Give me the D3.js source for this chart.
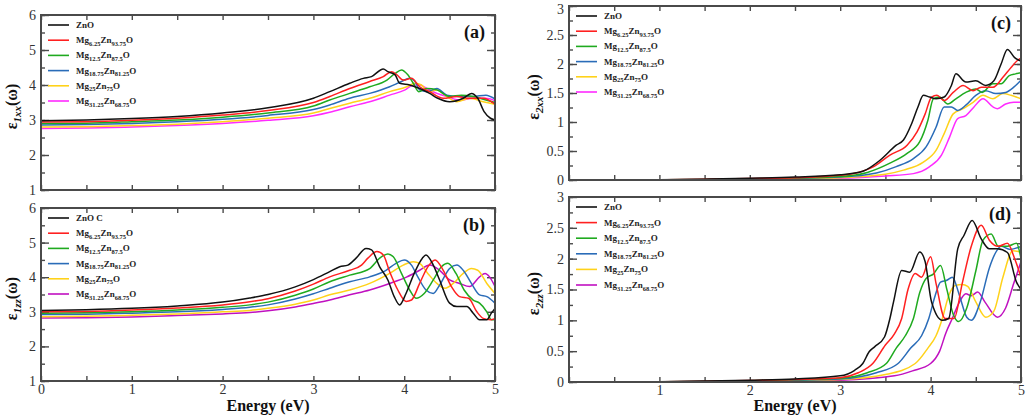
<!DOCTYPE html>
<html>
<head>
<meta charset="utf-8">
<script src="https://cdn.jsdelivr.net/npm/d3@7"></script>
<style>
  body { margin: 0; background: #fff; }
  svg text { font-family: "Liberation Serif", "Times New Roman", Tinos, "DejaVu Serif", serif; }
</style>
</head>
<body>
<div id="chart"></div>
<script>
// ---- data (energy in eV, dielectric function) ----
const seriesNames = ['ZnO', 'Mg6.25', 'Mg12.5', 'Mg18.75', 'Mg25', 'Mg31.25'];
// legend labels: [Mg sub, Zn sub]
const legendSubs = [null, ['6.25', '93.75'], ['12.5', '87.5'], ['18.75', '81.25'], ['25', '75'], ['31.25', '68.75']];

// (a) eps1 xx
const a_ZnO = [[0,2.98],[0.5,3.0],[1,3.04],[1.5,3.1],[2,3.2],[2.5,3.35],[3,3.62],[3.18,3.81],[3.4,4.05],[3.55,4.19],[3.64,4.24],[3.77,4.46],[3.82,4.38],[3.9,4.29],[3.95,4.05],[4.06,4.0],[4.17,3.9],[4.28,3.76],[4.37,3.62],[4.5,3.52],[4.65,3.62],[4.74,3.76],[4.81,3.62],[4.88,3.24],[4.95,3.05],[5,3.0]];
const a_Mg625 = [[0,2.94],[0.5,2.95],[1,2.99],[1.5,3.05],[2,3.14],[2.5,3.27],[3,3.5],[3.18,3.67],[3.4,3.9],[3.62,4.1],[3.77,4.24],[3.86,4.38],[3.92,4.29],[3.99,4.14],[4.08,4.19],[4.17,3.95],[4.28,3.81],[4.43,3.62],[4.58,3.67],[4.72,3.62],[4.87,3.62],[5,3.45]];
const a_Mg125 = [[0,2.9],[0.5,2.91],[1,2.95],[1.5,3.0],[2,3.08],[2.5,3.2],[3,3.4],[3.18,3.57],[3.4,3.76],[3.62,3.95],[3.81,4.14],[3.9,4.33],[3.97,4.43],[4.04,4.29],[4.1,4.05],[4.16,3.81],[4.25,3.9],[4.36,3.86],[4.5,3.67],[4.63,3.71],[4.76,3.67],[4.9,3.57],[5,3.5]];
const a_Mg1875 = [[0,2.86],[0.5,2.87],[1,2.9],[1.5,2.95],[2,3.02],[2.5,3.13],[3,3.3],[3.18,3.43],[3.4,3.62],[3.62,3.76],[3.84,3.95],[3.97,4.1],[4.06,4.19],[4.12,4.1],[4.17,3.86],[4.25,3.81],[4.36,3.9],[4.47,3.71],[4.61,3.67],[4.76,3.67],[4.9,3.71],[5,3.6]];
const a_Mg25 = [[0,2.8],[0.5,2.81],[1,2.84],[1.5,2.88],[2,2.95],[2.5,3.05],[3,3.2],[3.18,3.33],[3.4,3.48],[3.62,3.62],[3.84,3.81],[4.03,3.95],[4.12,4.05],[4.19,4.0],[4.27,3.81],[4.36,3.86],[4.47,3.67],[4.58,3.52],[4.72,3.62],[4.87,3.52],[5,3.45]];
const a_Mg3125 = [[0,2.76],[0.5,2.77],[1,2.8],[1.5,2.84],[2,2.9],[2.5,2.99],[3,3.12],[3.18,3.22],[3.4,3.38],[3.62,3.52],[3.84,3.71],[4.01,3.86],[4.1,4.0],[4.17,4.0],[4.25,3.9],[4.36,3.76],[4.47,3.67],[4.61,3.57],[4.76,3.62],[4.9,3.62],[5,3.55]];

// (b) eps1 zz
const b_ZnO = [[0,3.04],[0.5,3.06],[1,3.1],[1.5,3.17],[2,3.28],[2.3,3.4],[2.5,3.5],[2.8,3.72],[3,3.93],[3.18,4.16],[3.29,4.3],[3.38,4.35],[3.47,4.55],[3.58,4.83],[3.64,4.79],[3.73,4.3],[3.82,3.92],[3.89,3.44],[3.95,3.2],[4.02,3.53],[4.11,4.11],[4.2,4.55],[4.24,4.64],[4.32,4.35],[4.39,3.92],[4.5,3.25],[4.58,3.15],[4.69,3.15],[4.76,2.96],[4.83,2.77],[4.91,2.77],[4.96,2.96],[5,3.1]];
const b_Mg625 = [[0,3.0],[0.5,3.01],[1,3.05],[1.5,3.11],[2,3.2],[2.3,3.29],[2.5,3.38],[2.8,3.6],[3,3.8],[3.18,4.01],[3.4,4.2],[3.53,4.35],[3.6,4.55],[3.7,4.74],[3.77,4.64],[3.84,4.16],[3.93,3.63],[4.02,3.3],[4.08,3.34],[4.17,3.82],[4.26,4.3],[4.34,4.5],[4.43,4.2],[4.52,3.73],[4.61,3.44],[4.71,3.39],[4.8,3.0],[4.87,2.81],[4.95,2.77],[5,2.8]];
const b_Mg125 = [[0,2.96],[0.5,2.97],[1,3.0],[1.5,3.05],[2,3.13],[2.3,3.2],[2.5,3.28],[2.8,3.48],[3,3.66],[3.18,3.87],[3.4,4.06],[3.62,4.25],[3.73,4.55],[3.82,4.67],[3.88,4.59],[3.97,4.11],[4.06,3.63],[4.13,3.39],[4.22,3.53],[4.32,3.92],[4.41,4.3],[4.48,4.4],[4.57,4.11],[4.66,3.63],[4.76,3.34],[4.83,3.25],[4.91,3.0],[4.96,2.77],[5,2.77]];
const b_Mg1875 = [[0,2.92],[0.5,2.93],[1,2.96],[1.5,3.0],[2,3.07],[2.3,3.13],[2.5,3.2],[2.8,3.37],[3,3.52],[3.18,3.68],[3.4,3.87],[3.62,4.01],[3.8,4.2],[3.91,4.4],[4.0,4.5],[4.08,4.35],[4.15,4.01],[4.24,3.63],[4.32,3.53],[4.39,3.77],[4.5,4.25],[4.58,4.35],[4.65,4.2],[4.74,3.82],[4.83,3.49],[4.91,3.44],[5,3.25]];
const b_Mg25 = [[0,2.86],[0.5,2.87],[1,2.9],[1.5,2.94],[2,3.0],[2.3,3.04],[2.5,3.1],[2.8,3.22],[3,3.34],[3.18,3.49],[3.4,3.63],[3.62,3.82],[3.84,4.11],[3.99,4.35],[4.1,4.45],[4.17,4.4],[4.26,4.11],[4.36,3.82],[4.45,3.68],[4.54,3.82],[4.65,4.11],[4.74,4.25],[4.81,4.2],[4.91,3.82],[5,3.53]];
const b_Mg3125 = [[0,2.82],[0.5,2.83],[1,2.85],[1.5,2.89],[2,2.94],[2.3,2.98],[2.5,3.03],[2.8,3.14],[3,3.24],[3.18,3.34],[3.4,3.49],[3.62,3.63],[3.84,3.82],[4.03,4.01],[4.17,4.2],[4.28,4.35],[4.39,4.2],[4.5,3.92],[4.61,3.82],[4.72,3.73],[4.83,4.01],[4.89,4.11],[4.94,4.01],[5,3.73]];

// (c) eps2 xx
const c_ZnO = [[0,0],[1,0.005],[1.5,0.015],[2,0.03],[2.5,0.05],[3,0.09],[3.25,0.15],[3.44,0.34],[3.62,0.6],[3.7,0.69],[3.79,0.97],[3.86,1.26],[3.92,1.46],[3.99,1.43],[4.06,1.4],[4.15,1.43],[4.23,1.63],[4.28,1.83],[4.39,1.69],[4.5,1.71],[4.61,1.63],[4.7,1.71],[4.78,2.0],[4.85,2.25],[4.93,2.11],[5,2.05]];
const c_Mg625 = [[0,0],[1,0.004],[1.5,0.012],[2,0.025],[2.5,0.04],[3,0.08],[3.2,0.13],[3.37,0.23],[3.55,0.43],[3.74,0.6],[3.85,0.83],[3.94,1.14],[4.01,1.43],[4.07,1.46],[4.15,1.37],[4.25,1.51],[4.36,1.63],[4.47,1.54],[4.56,1.6],[4.69,1.6],[4.8,1.77],[4.89,1.94],[4.96,2.06],[5,2.1]];
const c_Mg125 = [[0,0],[1,0.003],[1.5,0.01],[2,0.02],[2.5,0.035],[3,0.06],[3.3,0.13],[3.55,0.29],[3.74,0.46],[3.88,0.66],[3.97,1.03],[4.03,1.4],[4.1,1.43],[4.19,1.31],[4.28,1.4],[4.39,1.51],[4.5,1.57],[4.57,1.51],[4.69,1.66],[4.78,1.66],[4.87,1.8],[4.94,1.83],[5,1.85]];
const c_Mg1875 = [[0,0],[1,0.003],[1.5,0.008],[2,0.015],[2.5,0.03],[3,0.05],[3.4,0.12],[3.62,0.23],[3.81,0.37],[3.95,0.57],[4.06,0.91],[4.15,1.26],[4.23,1.26],[4.3,1.2],[4.39,1.29],[4.5,1.46],[4.61,1.54],[4.72,1.49],[4.83,1.51],[4.92,1.6],[5,1.72]];
const c_Mg25 = [[0,0],[1,0.002],[1.5,0.006],[2,0.012],[2.5,0.025],[3,0.04],[3.5,0.1],[3.7,0.17],[3.92,0.31],[4.06,0.51],[4.15,0.8],[4.25,1.14],[4.36,1.23],[4.47,1.34],[4.58,1.46],[4.69,1.4],[4.8,1.49],[4.89,1.46],[5,1.4]];
const c_Mg3125 = [[0,0],[1,0.002],[1.5,0.005],[2,0.01],[2.5,0.02],[3,0.03],[3.5,0.07],[3.81,0.11],[3.99,0.23],[4.12,0.43],[4.21,0.74],[4.3,1.06],[4.39,1.11],[4.48,1.26],[4.58,1.4],[4.69,1.26],[4.74,1.23],[4.83,1.31],[4.92,1.34],[5,1.34]];

// (d) eps2 zz
const d_ZnO = [[0,0],[1,0.005],[1.5,0.015],[2,0.03],[2.5,0.05],[3,0.1],[3.16,0.19],[3.25,0.3],[3.32,0.49],[3.38,0.57],[3.49,0.73],[3.55,1.03],[3.59,1.3],[3.68,1.81],[3.77,1.78],[3.88,2.11],[3.94,1.95],[4.01,1.3],[4.13,1.0],[4.2,1.03],[4.3,2.16],[4.37,2.38],[4.46,2.62],[4.56,2.32],[4.65,2.16],[4.74,2.16],[4.85,2.1],[4.95,1.62],[5,1.5]];
const d_Mg625 = [[0,0],[1,0.004],[1.5,0.012],[2,0.025],[2.5,0.04],[3,0.07],[3.2,0.15],[3.36,0.3],[3.5,0.6],[3.6,0.78],[3.68,1.03],[3.75,1.5],[3.83,1.76],[3.9,1.7],[4.0,2.03],[4.06,1.6],[4.16,1.03],[4.26,1.03],[4.35,1.6],[4.45,2.2],[4.56,2.54],[4.65,2.3],[4.75,2.2],[4.85,2.25],[4.93,2.0],[5,1.7]];
const d_Mg125 = [[0,0],[1,0.003],[1.5,0.01],[2,0.02],[2.5,0.035],[3,0.06],[3.3,0.15],[3.51,0.3],[3.62,0.55],[3.72,0.75],[3.81,1.03],[3.88,1.45],[3.95,1.68],[4.03,1.75],[4.11,1.89],[4.18,1.5],[4.25,1.1],[4.31,0.98],[4.4,1.2],[4.5,1.8],[4.58,2.3],[4.67,2.4],[4.75,2.2],[4.85,2.2],[4.95,2.25],[5,2.0]];
const d_Mg1875 = [[0,0],[1,0.003],[1.5,0.008],[2,0.015],[2.5,0.03],[3,0.05],[3.4,0.15],[3.64,0.3],[3.78,0.55],[3.9,0.75],[3.98,1.03],[4.05,1.4],[4.11,1.62],[4.18,1.65],[4.24,1.7],[4.32,1.4],[4.4,1.05],[4.45,1.0],[4.55,1.3],[4.65,1.85],[4.72,2.1],[4.78,2.2],[4.88,2.15],[5,2.2]];
const d_Mg25 = [[0,0],[1,0.002],[1.5,0.006],[2,0.012],[2.5,0.025],[3,0.04],[3.5,0.12],[3.83,0.3],[3.97,0.55],[4.06,0.75],[4.13,1.03],[4.2,1.4],[4.28,1.57],[4.35,1.58],[4.41,1.55],[4.5,1.3],[4.61,1.05],[4.7,1.15],[4.8,1.7],[4.91,2.13],[5,2.1]];
const d_Mg3125 = [[0,0],[1,0.002],[1.5,0.005],[2,0.01],[2.5,0.02],[3,0.03],[3.6,0.1],[3.8,0.18],[4.0,0.3],[4.1,0.5],[4.17,0.8],[4.24,1.03],[4.32,1.3],[4.39,1.43],[4.45,1.4],[4.52,1.46],[4.6,1.3],[4.74,1.05],[4.83,1.2],[4.92,1.6],[5,1.95]];

const yTicks1 = [1, 2, 3, 4, 5, 6];
const yTicks2 = [0, 0.5, 1, 1.5, 2, 2.5, 3];
const xTicksLeft = [0, 1, 2, 3, 4, 5];
const xTicksRight = [1, 2, 3, 4, 5];

const colorsAC = ['#111111', '#ff2020', '#1faa1f', '#2a6cb8', '#ffd21a', '#ff2bff'];
const colorsBD = ['#111111', '#ff2020', '#1faa1f', '#2a6cb8', '#ffd21a', '#c010c0'];

// ---- layout ----
const width = 1030, height = 415;
const serif = '"Liberation Serif", "Times New Roman", Tinos, "DejaVu Serif", serif';
const svg = d3.select('#chart').append('svg')
  .attr('width', width)
  .attr('height', height);

const panels = [
  { id: '(a)', series: [a_ZnO, a_Mg625, a_Mg125, a_Mg1875, a_Mg25, a_Mg3125], colors: colorsAC,
    x0: 41, x1: 495, y0: 15, y1: 190, ydom: [1, 6], ymajor: 1, yTicks: yTicks1,
    xLabels: null, ylab: '1xx', titleX: 12, first: 'ZnO' },
  { id: '(b)', series: [b_ZnO, b_Mg625, b_Mg125, b_Mg1875, b_Mg25, b_Mg3125], colors: colorsBD,
    x0: 41, x1: 495, y0: 208, y1: 381, ydom: [1, 6], ymajor: 1, yTicks: yTicks1,
    xLabels: xTicksLeft, ylab: '1zz', titleX: 12, first: 'ZnO C' },
  { id: '(c)', series: [c_ZnO, c_Mg625, c_Mg125, c_Mg1875, c_Mg25, c_Mg3125], colors: colorsAC,
    x0: 569, x1: 1021, y0: 6, y1: 180, ydom: [0, 3], ymajor: 0.5, yTicks: yTicks2,
    xLabels: null, ylab: '2xx', titleX: 534, first: 'ZnO' },
  { id: '(d)', series: [d_ZnO, d_Mg625, d_Mg125, d_Mg1875, d_Mg25, d_Mg3125], colors: colorsBD,
    x0: 569, x1: 1021, y0: 197, y1: 382, ydom: [0, 3], ymajor: 0.5, yTicks: yTicks2,
    xLabels: xTicksRight, ylab: '2zz', titleX: 534, first: 'ZnO' }
];

const frameColor = '#4a4a4a';

panels.forEach((p) => {
  const x = d3.scaleLinear().domain([0, 5]).range([p.x0, p.x1]);
  const y = d3.scaleLinear().domain(p.ydom).range([p.y1, p.y0]);
  const g = svg.append('g');

  const xMinor = d3.range(0, 5.01, 0.5);
  const yMinor = d3.range(p.ydom[0], p.ydom[1] + 0.001, p.ymajor / 2);
  const yMajor = d3.range(p.ydom[0], p.ydom[1] + 0.001, p.ymajor);

  // inward ticks on all four sides
  const addAxis = (axis, tf) => {
    const ax = g.append('g').attr('transform', tf).call(axis);
    ax.select('.domain').remove();
    ax.selectAll('line').attr('stroke', frameColor).attr('stroke-width', 1.4);
    return ax;
  };
  addAxis(d3.axisBottom(x).tickValues(xMinor).tickSize(-5).tickFormat(''), `translate(0,${p.y1})`);
  addAxis(d3.axisTop(x).tickValues(xMinor).tickSize(-5).tickFormat(''), `translate(0,${p.y0})`);
  addAxis(d3.axisLeft(y).tickValues(yMinor).tickSize(-4).tickFormat(''), `translate(${p.x0},0)`);
  addAxis(d3.axisRight(y).tickValues(yMinor).tickSize(-4).tickFormat(''), `translate(${p.x1},0)`);
  addAxis(d3.axisLeft(y).tickValues(yMajor).tickSize(-8).tickFormat(''), `translate(${p.x0},0)`);
  addAxis(d3.axisRight(y).tickValues(yMajor).tickSize(-8).tickFormat(''), `translate(${p.x1},0)`);

  // tick labels
  const yl = g.append('g').attr('transform', `translate(${p.x0},0)`)
    .call(d3.axisLeft(y).tickValues(p.yTicks).tickSize(0).tickPadding(5).tickFormat(d => String(d)));
  yl.select('.domain').remove();
  yl.attr('font-family', serif);
  yl.selectAll('text').attr('font-size', 14).attr('fill', '#333').attr('font-family', serif);
  // top label of (c) sits at the very edge, nudge it down a little
  yl.selectAll('text').filter(d => d === p.ydom[1] && p.y0 < 10).attr('dy', '0.55em');

  if (p.xLabels) {
    const xl = g.append('g').attr('transform', `translate(0,${p.y1})`)
      .call(d3.axisBottom(x).tickValues(p.xLabels).tickSize(0).tickPadding(3).tickFormat(d => String(d)));
    xl.select('.domain').remove();
    xl.attr('font-family', serif);
    xl.selectAll('text').attr('font-size', 14).attr('fill', '#333').attr('font-family', serif);
  }

  // curves
  const clipId = 'clip' + p.id.replace(/\W/g, '');
  svg.append('clipPath').attr('id', clipId).append('rect')
    .attr('x', p.x0).attr('y', p.y0).attr('width', p.x1 - p.x0).attr('height', p.y1 - p.y0);
  const line = d3.line()
    .x(d => x(d[0]))
    .y(d => y(d[1]))
    .curve(d3.curveMonotoneX);
  const lines = g.append('g').attr('clip-path', `url(#${clipId})`);
  // draw in reverse so ZnO (black) ends on top
  p.series.slice().reverse().forEach((s, i) => {
    const k = p.series.length - 1 - i;
    lines.append('path')
      .attr('d', line(s))
      .attr('fill', 'none')
      .attr('stroke', p.colors[k])
      .attr('stroke-width', 1.5);
  });

  // frame
  g.append('rect')
    .attr('x', p.x0).attr('y', p.y0)
    .attr('width', p.x1 - p.x0).attr('height', p.y1 - p.y0)
    .attr('fill', 'none').attr('stroke', frameColor).attr('stroke-width', 2);

  // legend
  const lg = g.append('g').attr('transform', `translate(${p.x0 + 7},${p.y0 + 10})`);
  const rowH = (p.y1 - p.y0) > 178 ? 15.6 : 15.2;
  seriesNames.forEach((name, i) => {
    const row = lg.append('g').attr('transform', `translate(0,${i * rowH})`);
    row.append('line').attr('x1', 0).attr('x2', 21).attr('y1', 0).attr('y2', 0)
      .attr('stroke', p.colors[i]).attr('stroke-width', 1.6);
    const t = row.append('text').attr('x', 28).attr('y', 3)
      .attr('font-family', serif)
      .attr('font-size', 9).attr('font-weight', 'bold').attr('fill', '#222');
    if (i === 0) {
      t.text(p.first);
    } else {
      const subs = legendSubs[i];
      t.append('tspan').text('Mg');
      t.append('tspan').attr('font-size', 6.5).attr('dy', 2.5).text(subs[0]);
      t.append('tspan').attr('dy', -2.5).text('Zn');
      t.append('tspan').attr('font-size', 6.5).attr('dy', 2.5).text(subs[1]);
      t.append('tspan').attr('dy', -2.5).text('O');
    }
  });

  // panel label
  g.append('text')
    .attr('x', p.x1 - 10).attr('y', p.y0 + 23)
    .attr('text-anchor', 'end')
    .attr('font-family', serif)
    .attr('font-size', 18).attr('font-weight', 'bold').attr('fill', '#111')
    .text(p.id);

  // y axis title
  const cy = (p.y0 + p.y1) / 2 + 4;
  const yt = g.append('text')
    .attr('transform', `translate(${p.titleX + 5},${cy}) rotate(-90)`)
    .attr('text-anchor', 'middle')
    .attr('font-family', serif)
    .attr('font-size', 16).attr('font-weight', 'bold').attr('fill', '#111');
  yt.append('tspan').text('\u03b5');
  yt.append('tspan').attr('font-size', 11).attr('font-style', 'italic').attr('dy', 4).text(p.ylab);
  yt.append('tspan').attr('dy', -4).text('(\u03c9)');

  if (p.xLabels) {
    g.append('text')
      .attr('x', (p.x0 + p.x1) / 2).attr('y', 411)
      .attr('text-anchor', 'middle')
      .attr('font-family', serif)
      .attr('font-size', 16).attr('font-weight', 'bold').attr('fill', '#111')
      .text('Energy (eV)');
  }
});
</script>
</body>
</html>
